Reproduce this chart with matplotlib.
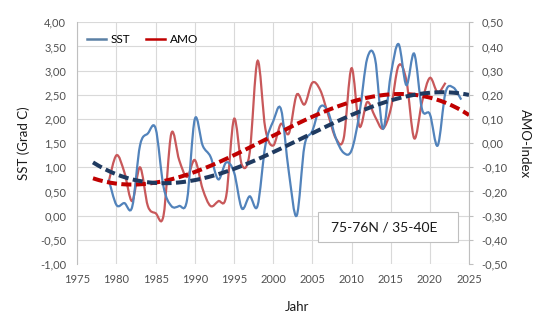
import numpy as np
import matplotlib
matplotlib.use("Agg")
from matplotlib import pyplot as plt
from matplotlib.path import Path
from matplotlib.patches import PathPatch, Rectangle
from matplotlib.lines import Line2D
from matplotlib.ticker import FuncFormatter, MultipleLocator

plt.rcParams["font.family"] = ["Lato", "DejaVu Sans"]

years = list(range(1979, 2025))
sst = [0.75, 0.22, 0.26, 0.18, 1.45, 1.70, 1.80, 0.60, 0.20, 0.20,
       0.32, 2.00, 1.45, 1.22, 0.75, 1.10, 0.90, 0.15, 0.40, 0.20,
       1.45, 1.95, 2.20, 0.90, 0.00, 1.45, 1.75, 2.25, 2.15, 1.60,
       1.30, 1.35, 2.10, 3.25, 3.25, 1.80, 2.90, 3.55, 2.70, 3.35,
       2.20, 2.10, 1.45, 2.55, 2.65, 2.40]

amo_years = list(range(1979, 2023))
amo = [-0.16, -0.05, -0.12, -0.24, -0.10, -0.26, -0.29, -0.30, 0.04, -0.07,
       -0.14, -0.07, -0.19, -0.26, -0.24, -0.22, 0.10, -0.09, -0.04, 0.34,
       0.06, -0.01, 0.08, 0.04, 0.20, 0.16, 0.25, 0.22, 0.12, 0.02,
       0.02, 0.31, 0.07, 0.17, 0.11, 0.06, 0.14, 0.32, 0.26, 0.02,
       0.17, 0.27, 0.21, 0.25]

trend_range = (1977, 2025)


def smooth_path(x, y):
    # excel style smoothed line as cubic bezier segments
    x = np.asarray(x, float)
    y = np.asarray(y, float)
    n = len(x)
    verts = [(x[0], y[0])]
    codes = [Path.MOVETO]
    for i in range(n - 1):
        i0 = max(i - 1, 0)
        i3 = min(i + 2, n - 1)
        c1 = (x[i] + (x[i + 1] - x[i0]) / 6, y[i] + (y[i + 1] - y[i0]) / 6)
        c2 = (x[i + 1] - (x[i3] - x[i]) / 6, y[i + 1] - (y[i3] - y[i]) / 6)
        verts += [c1, c2, (x[i + 1], y[i + 1])]
        codes += [Path.CURVE4] * 3
    return Path(verts, codes)


fig = plt.figure(figsize=(5.48, 3.23), dpi=100)
ax = fig.add_axes([0.1411, 0.1827, 0.7148, 0.7483])
ax2 = ax.twinx()

ax.set_xlim(1975, 2025)
ax.set_ylim(-1, 4)
ax2.set_ylim(-0.5, 0.5)

sst_col = "#5283bb"
amo_col = "#c8585a"
sst_tr = "#1f3a60"
amo_tr = "#c00000"

ax.add_patch(PathPatch(smooth_path(years, sst), fill=False, edgecolor=sst_col,
                       lw=1.6, zorder=3))
ax.add_patch(PathPatch(smooth_path(amo_years, amo), fill=False, edgecolor=amo_col,
                       lw=1.6, zorder=2, transform=ax2.transData))

tx = np.linspace(trend_range[0], trend_range[1], 200)
p_sst = np.polyfit(years, sst, 3)
p_amo = np.polyfit(amo_years, amo, 3)
ax.plot(tx, np.polyval(p_amo, tx), color=amo_tr, lw=2.9, dashes=(2.5, 1.1),
        zorder=4, transform=ax2.transData)
ax.plot(tx, np.polyval(p_sst, tx), color=sst_tr, lw=2.9, dashes=(2.5, 1.1),
        zorder=5)

fmt = FuncFormatter(lambda v, p: ("%.2f" % v).replace(".", ","))
ax.yaxis.set_major_locator(MultipleLocator(0.5))
ax.yaxis.set_major_formatter(fmt)
ax2.yaxis.set_major_locator(MultipleLocator(0.1))
ax2.yaxis.set_major_formatter(fmt)
ax.xaxis.set_major_locator(MultipleLocator(5))

ax.grid(True, color="#d9d9d9", lw=0.8)
ax.set_axisbelow(True)
for a in (ax, ax2):
    for s in a.spines.values():
        s.set_visible(False)
ax.spines["left"].set_visible(True)
ax.spines["left"].set_color("#bfbfbf")
ax2.spines["right"].set_visible(True)
ax2.spines["right"].set_color("#bfbfbf")

ax.tick_params(axis="both", length=0, labelsize=8, labelcolor="#505050")
ax.tick_params(axis="y", pad=8)
ax.tick_params(axis="x", pad=7)
ax2.tick_params(axis="y", length=3, color="#bfbfbf", labelsize=8,
                labelcolor="#505050", pad=6)

ax.set_ylabel("SST (Grad C)", fontsize=9.5, color="#1a1a1a", labelpad=7)
ax2.set_ylabel("AMO-Index", fontsize=9.5, color="#1a1a1a", rotation=270,
               labelpad=17)
ax.set_xlabel("Jahr", fontsize=9.5, color="#1a1a1a")
ax.xaxis.set_label_coords(0.56, -0.155)

handles = [Line2D([], [], color="#5b80a5", lw=1.8),
           Line2D([], [], color="#c00000", lw=1.8)]
ax.legend(handles, ["SST", "AMO"], loc="upper left", ncol=2, frameon=False,
          fontsize=8.5, handlelength=1.6, columnspacing=1.3, handletextpad=0.45,
          bbox_to_anchor=(0.0, 0.99), borderaxespad=0.4)

ax.add_patch(Rectangle((0.615, 0.092), 0.358, 0.122, transform=ax.transAxes,
                       facecolor="white", edgecolor="#bfbfbf", lw=0.8, zorder=6))
ax.text(0.648, 0.153, "75-76N / 35-40E", transform=ax.transAxes, fontsize=10,
        color="#1a1a1a", va="center", ha="left", zorder=7)

fig.savefig("out.png", dpi=100)
